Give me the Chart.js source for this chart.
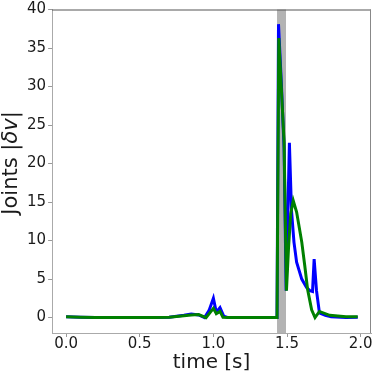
<!DOCTYPE html>
<html>
<head>
<meta charset="utf-8">
<script src="https://cdn.jsdelivr.net/npm/chart.js@4"></script>
<style>
  html, body { margin: 0; padding: 0; background: #fff; }
  #wrap { width: 374px; height: 373px; }
</style>
</head>
<body>
<div id="wrap"><canvas id="chart" width="374" height="373"></canvas></div>
<script>
// valeurs
const blueTime = [0.0, 0.1, 0.2, 0.3, 0.4, 0.5, 0.6, 0.7, 0.8, 0.85, 0.9, 0.94, 0.97, 1.0, 1.02, 1.045, 1.07, 1.1, 1.2, 1.3, 1.4, 1.432,
  1.442, 1.46, 1.48, 1.494, 1.505, 1.516, 1.53, 1.547, 1.565, 1.6, 1.633, 1.655, 1.673, 1.684, 1.7, 1.72, 1.76, 1.8, 1.9, 1.98];
const blueVals = [0.1, 0.05, 0.0, 0.0, 0.0, 0.0, 0.0, 0.05, 0.3, 0.45, 0.35, 0.0, 0.9, 2.5, 0.7, 1.3, 0.2, 0.0, 0.0, 0.0, 0.0, 0.0,
  38.1, 31, 22, 3.5, 13, 22.7, 14, 9.8, 7.2, 5.0, 3.9, 3.5, 3.4, 7.6, 3.5, 0.6, 0.3, 0.1, 0.0, 0.05];

const greenTime = [0.0, 0.1, 0.2, 0.3, 0.4, 0.5, 0.6, 0.7, 0.8, 0.85, 0.9, 0.95, 1.0, 1.02, 1.045, 1.065, 1.1, 1.2, 1.3, 1.4, 1.432,
  1.444, 1.48, 1.496, 1.51, 1.525, 1.542, 1.565, 1.6, 1.62, 1.64, 1.667, 1.69, 1.72, 1.79, 1.9, 1.98];
const greenVals = [0.1, 0.05, 0.0, 0.0, 0.0, 0.0, 0.0, 0.05, 0.25, 0.35, 0.4, 0.0, 1.2, 0.5, 0.8, 0.05, 0.0, 0.0, 0.0, 0.0, 0.0,
  36.3, 22.8, 3.5, 9, 13.5, 15.2, 13.7, 9.8, 6.8, 3.6, 1.0, 0.0, 0.8, 0.3, 0.1, 0.1];

const band = [1.432, 1.493];
const xTicks = [0.0, 0.5, 1.0, 1.5, 2.0];
const yTicks = [0, 5, 10, 15, 20, 25, 30, 35, 40];

function toPoints(ts, vs) {
  return ts.map((t, i) => ({ x: t, y: vs[i] }));
}

const extras = {
  id: 'extras',
  beforeDatasetsDraw(chart) {
    const { ctx, chartArea, scales } = chart;
    const x0 = scales.x.getPixelForValue(band[0]);
    const x1 = scales.x.getPixelForValue(band[1]);
    ctx.save();
    ctx.fillStyle = '#b3b3b3';
    ctx.fillRect(x0, chartArea.top, x1 - x0, chartArea.bottom - chartArea.top);
    ctx.restore();
  },
  afterDraw(chart) {
    const { ctx, chartArea } = chart;
    ctx.save();
    // cadre
    ctx.lineWidth = 1;
    ctx.strokeStyle = '#555';
    ctx.beginPath();
    ctx.moveTo(chartArea.left, chartArea.top + 0.5);
    ctx.lineTo(chartArea.right, chartArea.top + 0.5);
    ctx.stroke();
    ctx.strokeStyle = '#888';
    ctx.beginPath();
    ctx.moveTo(chartArea.right - 0.5, chartArea.top);
    ctx.lineTo(chartArea.right - 0.5, chartArea.bottom);
    ctx.stroke();

    // titre de l'axe y avec δv en italique
    const font = '"DejaVu Sans", sans-serif';
    const parts = [
      { t: 'Joints |', f: '21px ' + font },
      { t: 'δv', f: 'italic 21px ' + font },
      { t: '|', f: '21px ' + font }
    ];
    let total = 0;
    parts.forEach(p => { ctx.font = p.f; p.w = ctx.measureText(p.t).width; total += p.w; });
    ctx.translate(12, 163);
    ctx.rotate(-Math.PI / 2);
    ctx.fillStyle = '#1a1a1a';
    ctx.textBaseline = 'middle';
    let pos = -total / 2;
    parts.forEach(p => { ctx.font = p.f; ctx.fillText(p.t, pos, 0); pos += p.w; });
    ctx.restore();
  }
};

const ctx = document.getElementById('chart').getContext('2d');
new Chart(ctx, {
  type: 'line',
  data: {
    datasets: [{
      data: toPoints(blueTime, blueVals),
      borderColor: '#0000ff',
      borderWidth: 3,
      pointRadius: 0,
      tension: 0,
      fill: false,
      order: 2
    }, {
      data: toPoints(greenTime, greenVals),
      borderColor: '#008000',
      borderWidth: 3,
      pointRadius: 0,
      tension: 0,
      fill: false,
      order: 1
    }]
  },
  options: {
    responsive: false,
    animation: false,
    layout: { padding: { left: 25, top: 0, right: 3, bottom: 0 } },
    plugins: { legend: { display: false }, tooltip: { enabled: false } },
    scales: {
      x: {
        type: 'linear',
        min: -0.095,
        max: 2.07,
        afterBuildTicks: (axis) => { axis.ticks = xTicks.map(v => ({ value: v })); },
        ticks: {
          color: '#1a1a1a',
          font: { family: '"DejaVu Sans"', size: 15, lineHeight: 1 },
          padding: 0,
          maxRotation: 0,
          callback: (v) => v.toFixed(1)
        },
        grid: { drawOnChartArea: false, tickLength: 4, color: '#999' },
        border: { color: '#aaa', width: 1 },
        title: {
          display: true,
          text: 'time [s]',
          color: '#1a1a1a',
          font: { family: '"DejaVu Sans"', size: 20, lineHeight: 1 },
          padding: { top: 1, bottom: 0 }
        }
      },
      y: {
        min: -2,
        max: 40,
        afterBuildTicks: (axis) => { axis.ticks = yTicks.map(v => ({ value: v })); },
        ticks: {
          color: '#1a1a1a',
          font: { family: '"DejaVu Sans"', size: 15, lineHeight: 1 },
          padding: 2
        },
        grid: { drawOnChartArea: false, tickLength: 4, color: '#999' },
        border: { color: '#aaa', width: 1 }
      }
    }
  },
  plugins: [extras]
});
</script>
</body>
</html>
